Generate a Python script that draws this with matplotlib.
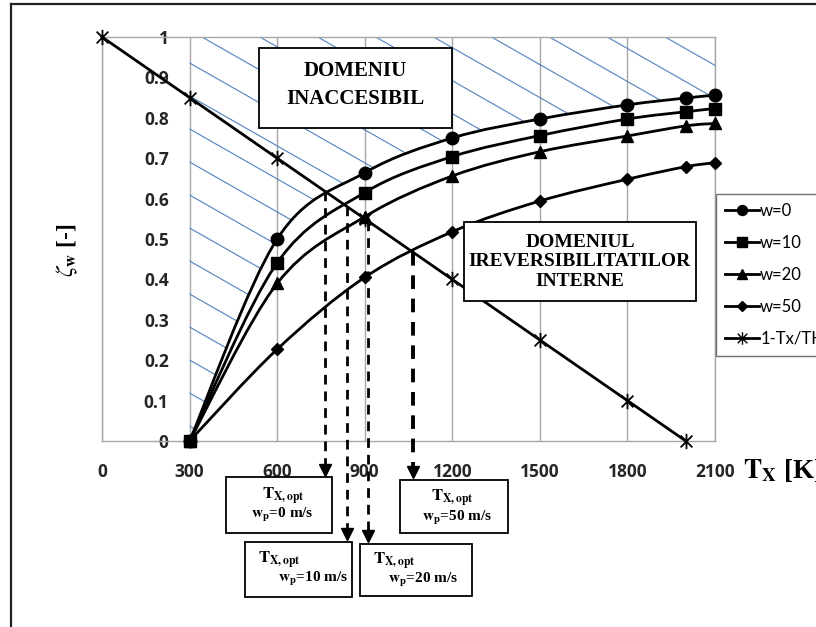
import numpy as np
import matplotlib.pyplot as plt
from matplotlib.path import Path
from matplotlib.patches import PathPatch, Rectangle
from matplotlib.lines import Line2D
from matplotlib.collections import LineCollection

plt.rcParams['mathtext.fontset'] = 'stix'

# data
tx = [300, 600, 900, 1200, 1500, 1800, 2000, 2100]
zeta_w0 = [0, 0.50, 0.664, 0.75, 0.797, 0.832, 0.849, 0.856]
zeta_w10 = [0, 0.441, 0.615, 0.704, 0.756, 0.797, 0.815, 0.823]
zeta_w20 = [0, 0.39, 0.555, 0.656, 0.716, 0.755, 0.78, 0.786]
zeta_w50 = [0, 0.227, 0.405, 0.518, 0.594, 0.648, 0.679, 0.689]
tx_carnot = [0, 300, 600, 900, 1200, 1500, 1800, 2000]
carnot = [1, 0.85, 0.7, 0.55, 0.4, 0.25, 0.1, 0]

# optimum points (intersection of curves with 1-Tx/TH)
tx_opt = [764, 838, 910, 1066]
zeta_opt = [0.618, 0.581, 0.545, 0.467]

xticks = [0, 300, 600, 900, 1200, 1500, 1800, 2100]
yticks = [0, 0.1, 0.2, 0.3, 0.4, 0.5, 0.6, 0.7, 0.8, 0.9, 1]
ytick_labels = ['0', '0.1', '0.2', '0.3', '0.4', '0.5', '0.6', '0.7', '0.8', '0.9', '1']

W, H = 816, 627


def fx(px):
    return px / W


def fy(py):
    return 1 - py / H


def smooth_path(xs, ys):
    # Excel-like smoothed line (Catmull-Rom as cubic Bezier)
    pts = np.column_stack([xs, ys]).astype(float)
    n = len(pts)
    verts = [pts[0]]
    codes = [Path.MOVETO]
    for i in range(n - 1):
        p0 = pts[max(i - 1, 0)]
        p1 = pts[i]
        p2 = pts[i + 1]
        p3 = pts[min(i + 2, n - 1)]
        verts += [p1 + (p2 - p0) / 6, p2 - (p3 - p1) / 6, p2]
        codes += [Path.CURVE4] * 3
    return verts, codes


fig = plt.figure(figsize=(8.16, 6.27), dpi=100)
ax = fig.add_axes([fx(102), fy(441), (715 - 102) / W, (441 - 37) / H])
ax.set_xlim(0, 2100)
ax.set_ylim(0, 1)

for s in ax.spines.values():
    s.set_color('#a6a6a6')
    s.set_linewidth(1)
ax.set_xticks(xticks)
ax.set_yticks(yticks)
tick_font = dict(fontfamily='Open Sans', fontweight='bold', fontsize=12.5, color='#262626')
ax.set_xticklabels([str(v) for v in xticks], **tick_font)
ax.set_yticklabels(ytick_labels, **tick_font)
ax.tick_params(axis='x', length=0, pad=16)
ax.tick_params(axis='y', length=0, pad=-48)
ax.grid(axis='x', color='#a6a6a6', lw=1)
ax.set_axisbelow(True)

# hatched "inaccessible" region above the w=0 curve
v, c = smooth_path(tx, zeta_w0)
v = v + [(tx[-1], 1), (tx[0], 1), (tx[0], 0), (tx[0], 0)]
c = c + [Path.LINETO, Path.LINETO, Path.LINETO, Path.CLOSEPOLY]
region = PathPatch(Path(v, c), transform=ax.transData)
slope = 0.57 * 613 / 404
segs = []
for k in range(-30, 30):
    c0 = 1.141 + k * 0.0817
    segs.append([(-0.5, c0 + 0.5 * slope), (1.5, c0 - 1.5 * slope)])
hatch = LineCollection(segs, colors='#4f81bd', linewidths=0.8,
                       transform=ax.transAxes, zorder=1)
hatch.set_clip_path(region)
ax.add_collection(hatch)

# 1-Tx/TH line
star = Path([(-1, -1), (1, 1), (-1, 1), (1, -1), (0, -1.3), (0, 1.3)],
            [Path.MOVETO, Path.LINETO, Path.MOVETO, Path.LINETO, Path.MOVETO, Path.LINETO])
ax.plot(tx_carnot, carnot, color='black', lw=2, marker=star, ms=11, mew=1.3,
        clip_on=False, zorder=3)

series = [(zeta_w0, 'o', 9, 'w=0'), (zeta_w10, 's', 9, 'w=10'),
          (zeta_w20, '^', 9, 'w=20'), (zeta_w50, 'D', 6.5, 'w=50')]
handles = []
for ys, mk, ms, lab in series:
    v, c = smooth_path(tx, ys)
    ax.add_patch(PathPatch(Path(v, c), fill=False, ec='black', lw=2,
                           clip_on=False, zorder=6))
    ax.plot(tx, ys, ls='none', marker=mk, ms=ms, color='black',
            clip_on=False, zorder=7)
    handles.append(Line2D([], [], color='black', lw=2, marker=mk, ms=ms * 0.8))
handles.append(Line2D([], [], color='black', lw=2, marker=star, ms=9, mew=1.0))
labels = [s[3] for s in series] + ['1-Tx/TH']

leg = ax.legend(handles, labels, loc='upper left',
                bbox_to_anchor=(fx(716), fy(194)), bbox_transform=fig.transFigure,
                borderaxespad=0, fancybox=False, framealpha=1, edgecolor='#707070',
                prop=dict(family='Lato', size=12), handlelength=2.0,
                handletextpad=0.1, labelspacing=0.95, borderpad=0.55)
leg.get_frame().set_linewidth(1)

# dashed arrows from the optimum points down to the labels
tips_px = [475, 539, 541, 477]
widths = [2, 2, 2, 2.8]
for x, y, tp, lw in zip(tx_opt, zeta_opt, tips_px, widths):
    ytip = (441 - tp) / 404
    ax.plot([x, x], [y, ytip + 0.01], color='black', lw=lw, ls=(0, (3.5, 2.5)),
            clip_on=False, zorder=5)
    ax.plot([x], [ytip + 0.013], marker='v', ms=8, color='black',
            clip_on=False, zorder=5)


def box(x0, y0, x1, y1, z=8):
    r = Rectangle((fx(x0), fy(y1)), (x1 - x0) / W, (y1 - y0) / H,
                  transform=fig.transFigure, fc='white', ec='black', lw=1.3, zorder=z)
    fig.add_artist(r)


serif = dict(family='Liberation Serif', weight='bold')

box(259, 48, 452, 128)
fig.text(fx(355), fy(85), 'DOMENIU\nINACCESIBIL', ha='center', va='center',
         fontsize=15, linespacing=1.55, zorder=9, **serif)

box(464, 222, 696, 301, z=4.5)
fig.text(fx(580), fy(262), 'DOMENIUL\nIREVERSIBILITATILOR\nINTERNE', ha='center',
         va='center', fontsize=14, linespacing=1.2, zorder=4.6, **serif)

# bottom label boxes
topt = r'$\mathbf{T_{X,opt}}$'
box(226, 477, 332, 533)
fig.text(fx(283), fy(496), topt, ha='center', va='center', fontsize=12, zorder=9)
fig.text(fx(282), fy(515), r'$\mathbf{w_p}$=0 m/s', ha='center', va='center',
         fontsize=11, zorder=9, **serif)

box(400, 480, 508, 533)
fig.text(fx(452), fy(498), topt, ha='center', va='center', fontsize=12, zorder=9)
fig.text(fx(457), fy(518), r'$\mathbf{w_p}$=50 m/s', ha='center', va='center',
         fontsize=11, zorder=9, **serif)

box(245, 542, 352, 597)
fig.text(fx(258), fy(560), topt, ha='left', va='center', fontsize=12, zorder=9)
fig.text(fx(348), fy(579), r'$\mathbf{w_p}$=10 m/s', ha='right', va='center',
         fontsize=11, zorder=9, **serif)

box(360, 544, 472, 596)
fig.text(fx(373), fy(561), topt, ha='left', va='center', fontsize=12, zorder=9)
fig.text(fx(388), fy(580), r'$\mathbf{w_p}$=20 m/s', ha='left', va='center',
         fontsize=11, zorder=9, **serif)

# axis titles
fig.text(fx(67), fy(250), r'$\zeta_{\mathbf{w}}$ [-]', rotation=90, ha='center',
         va='center', fontsize=17, **serif)
fig.text(fx(743), fy(470), r'$\mathbf{T_X}$ [K]', ha='left', va='center',
         fontsize=19.5, **serif)

# outer frame (left and top edges visible)
fig.add_artist(Line2D([fx(11), fx(11)], [fy(4), fy(640)], color='#222222', lw=1.6,
                      transform=fig.transFigure))
fig.add_artist(Line2D([fx(11), fx(830)], [fy(4), fy(4)], color='#222222', lw=1.6,
                      transform=fig.transFigure))

fig.savefig('out.png', dpi=100)
